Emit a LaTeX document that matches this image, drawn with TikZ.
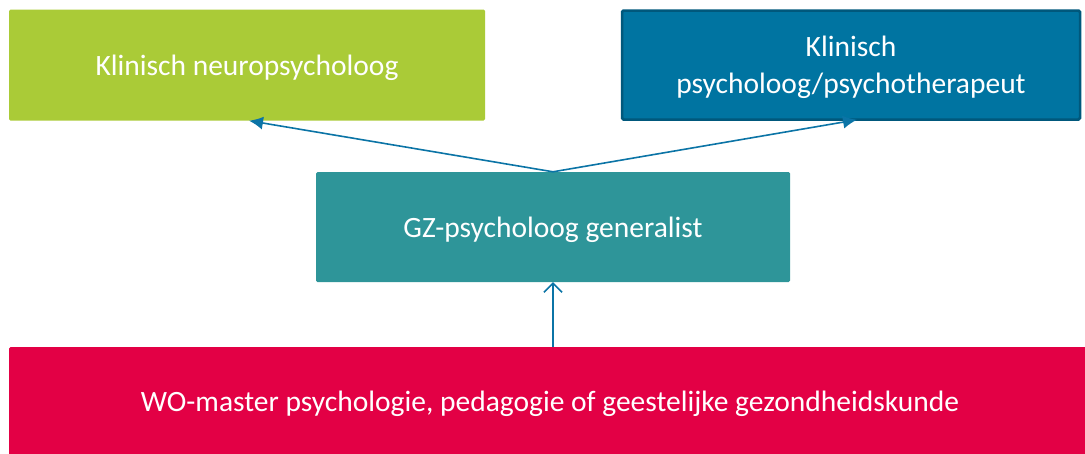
\documentclass[tikz,border=0pt]{standalone}
\usepackage{fontspec}
\setmainfont{Carlito}
\usetikzlibrary{arrows.meta}

\definecolor{limegroen}{HTML}{AACB37}
\definecolor{zeeblauw}{HTML}{0074A1}
\definecolor{donkerblauw}{HTML}{00587C}
\definecolor{petrol}{HTML}{2E9599}
\definecolor{framboos}{HTML}{E30045}
\definecolor{pijlblauw}{HTML}{0B74A6}

\tikzset{
  blok/.style={rectangle, rounded corners=1.5pt, text=white, align=center,
    font=\fontsize{29.5}{37.5}\selectfont, inner sep=0pt, text depth=0pt},
  pijl/.style={draw=pijlblauw, line width=1.6pt}
}

\begin{document}
\begin{tikzpicture}[x=1pt,y=-1pt]
		\useasboundingbox (0,0) rectangle (1085,453);
		
		\node[blok, fill=limegroen, minimum width=476pt, minimum height=111pt] (neuro) at (247,65) {Klinisch neuropsycholoog};
		\node[blok, fill=zeeblauw, draw=donkerblauw, line width=2.5pt, minimum width=458pt, minimum height=109pt] (klinisch) at (851,65) {Klinisch\\psycholoog/psychotherapeut};
		\node[blok, fill=petrol, minimum width=474pt, minimum height=110pt] (gz) at (553,227) {GZ-psycholoog generalist};
		\node[blok, fill=framboos, minimum width=1082pt, minimum height=108pt] (wo) at (550,401) {WO-master psychologie, pedagogie of geestelijke gezondheidskunde};
		
		\draw[pijl, -{Latex[length=14pt,width=13pt]}] (gz.north) -- ([xshift=2pt]neuro.south);
		\draw[pijl, -{Latex[length=14pt,width=13pt]}] (gz.north) -- ([xshift=6pt,yshift=1pt]klinisch.south);
		\draw[pijl, -{Straight Barb[length=9pt,width=18pt]}] (wo.north -| gz.south) -- (gz.south);
	\end{tikzpicture}
\end{document}
